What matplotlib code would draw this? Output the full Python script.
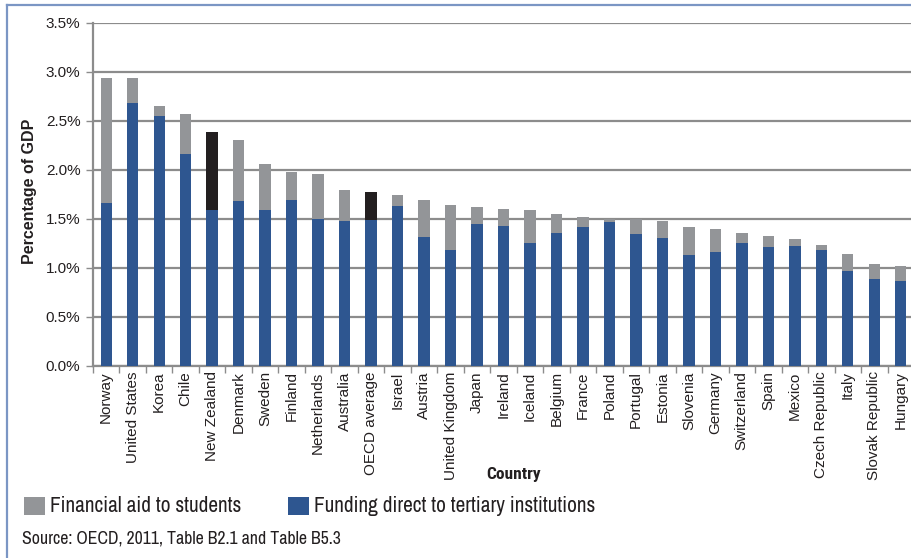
import matplotlib
matplotlib.use("Agg")
import matplotlib.pyplot as plt
from matplotlib.lines import Line2D
from matplotlib.patches import Rectangle
import numpy as np

countries = ["Norway", "United States", "Korea", "Chile", "New Zealand", "Denmark",
             "Sweden", "Finland", "Netherlands", "Australia", "OECD average", "Israel",
             "Austria", "United Kingdom", "Japan", "Ireland", "Iceland", "Belgium",
             "France", "Poland", "Portugal", "Estonia", "Slovenia", "Germany",
             "Switzerland", "Spain", "Mexico", "Czech Republic", "Italy",
             "Slovak Republic", "Hungary"]

# Percentage of GDP
direct_funding = [1.66, 2.68, 2.55, 2.16, 1.59, 1.68, 1.59, 1.69, 1.50, 1.48, 1.49, 1.63,
                  1.31, 1.18, 1.45, 1.43, 1.25, 1.36, 1.42, 1.47, 1.34, 1.30, 1.13, 1.16,
                  1.25, 1.21, 1.22, 1.18, 0.97, 0.89, 0.86]
student_aid = [1.28, 0.26, 0.10, 0.41, 0.80, 0.62, 0.47, 0.29, 0.46, 0.31, 0.28, 0.11,
               0.38, 0.46, 0.17, 0.17, 0.34, 0.19, 0.10, 0.03, 0.16, 0.18, 0.29, 0.24,
               0.11, 0.11, 0.07, 0.05, 0.17, 0.15, 0.16]
highlighted = ["New Zealand", "OECD average"]

series_labels = ["Financial aid to students", "Funding direct to tertiary institutions"]
y_ticks = [0.0, 0.5, 1.0, 1.5, 2.0, 2.5, 3.0, 3.5]

BLUE = "#2E5690"
GREY = "#939598"
BLACK = "#231F20"
GRID = "#8C8C8C"
TEXT = "#231F20"
FRAME = "#7B96C4"
NARROW = ["Archivo Narrow", "DejaVu Sans"]
NARROW_BOLD = ["Roboto Condensed", "DejaVu Sans"]

W, H = 912, 558
fig = plt.figure(figsize=(W / 100, H / 100), dpi=100)
ax = fig.add_axes([93 / W, 1 - 365.7 / H, 821 / W, (365.7 - 23) / H])

x = np.arange(len(countries))
aid_colors = [BLACK if c in highlighted else GREY for c in countries]
ax.bar(x, direct_funding, width=0.43, color=BLUE, zorder=3)
ax.bar(x, student_aid, width=0.43, bottom=direct_funding, color=aid_colors, zorder=3)

ax.set_xlim(-0.5, len(countries) - 0.5)
ax.set_ylim(0, 3.5)
ax.set_yticks(y_ticks)
ax.set_yticklabels([f"{v:.1f}%" for v in y_ticks], fontsize=11, color=TEXT,
                   family="Liberation Sans")
ax.yaxis.grid(True, color=GRID, linewidth=1.6, zorder=0)
ax.set_axisbelow(True)

ax.set_xticks(x)
ax.set_xticklabels(countries, rotation=90, fontsize=11, color=TEXT,
                   family="Liberation Sans")
ax.tick_params(axis="x", which="major", length=0, pad=4)
ax.set_xticks(np.arange(-0.5, len(countries), 1.0), minor=True)
ax.tick_params(axis="x", which="minor", length=5, width=1, color=GRID, direction="out")
ax.tick_params(axis="y", length=5, width=1, color=GRID, direction="out", pad=4)

for side in ["top", "right"]:
    ax.spines[side].set_visible(False)
for side in ["left", "bottom"]:
    ax.spines[side].set_color(GRID)
    ax.spines[side].set_linewidth(1.6)

fig.text(30 / W, 1 - 191 / H, "Percentage of GDP", rotation=90, ha="center",
         va="center", fontsize=11.5, fontweight="bold", color=TEXT,
         family="Liberation Sans")
fig.text(514 / W, 1 - 475 / H, "Country", ha="center", va="center", fontsize=12.5,
         fontweight="bold", color=TEXT, family=NARROW_BOLD)

# Legend swatches and labels
legend_items = [(24, GREY, series_labels[0]), (288, BLUE, series_labels[1])]
for left, color, label in legend_items:
    fig.add_artist(Rectangle((left / W, 1 - 515 / H), 21 / W, 18 / H,
                             transform=fig.transFigure, facecolor=color, edgecolor="none"))
    fig.text((left + 26) / W, 1 - 506.5 / H, label, ha="left", va="center",
             fontsize=15.3, color=TEXT, family=NARROW)

fig.text(22 / W, 1 - 538 / H, "Source: OECD, 2011, Table B2.1 and Table B5.3",
         ha="left", va="center", fontsize=12.8, color=TEXT, family=NARROW)

# Outer frame (top and left edges)
fig.add_artist(Line2D([7 / W, 7 / W], [0, 1 - 5 / H], transform=fig.transFigure,
                      color=FRAME, linewidth=1.6))
fig.add_artist(Line2D([7 / W, 1], [1 - 5 / H, 1 - 5 / H], transform=fig.transFigure,
                      color=FRAME, linewidth=1.6))

fig.savefig("out.png", dpi=100)
